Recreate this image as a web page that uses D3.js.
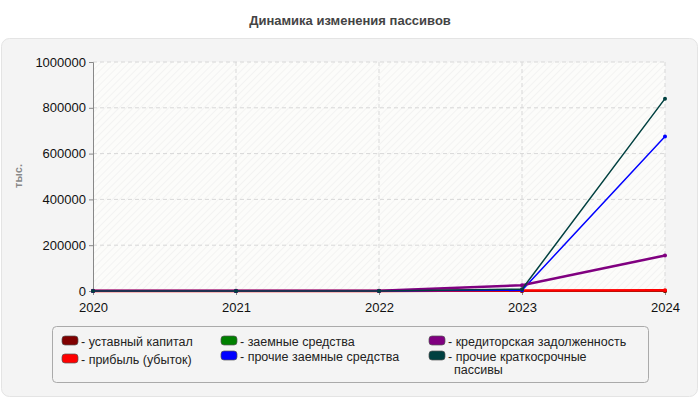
<!DOCTYPE html>
<html><head><meta charset="utf-8">
<script src="https://cdn.jsdelivr.net/npm/d3@7"></script>
<style>body{margin:0;background:#fff;font-family:"Liberation Sans",Arial,sans-serif}</style>
</head><body><svg id="c" width="700" height="400"></svg>
<script>
const years = [2020, 2021, 2022, 2023, 2024];
const yTicks = [0, 200000, 400000, 600000, 800000, 1000000];
const seriesNames = ["уставный капитал","прибыль (убыток)","заемные средства","прочие заемные средства","кредиторская задолженность","прочие краткосрочные пассивы"];
const seriesColors = ["#800000","#ff0000","#008000","#0000ff","#800080","#004040"];
const ustavny = [10, 10, 10, 10, 10];
const pribyl = [0, 0, 0, 2000, 3000];
const zaemnye = [0, 0, 0, 0, 0];
const prochieZaemnye = [0, 0, 0, 3000, 675000];
const kreditor = [1000, 1000, 1500, 25000, 155000];
const prochieKratko = [0, 0, 0, 8000, 840000];
const seriesValues = [ustavny, pribyl, zaemnye, prochieZaemnye, kreditor, prochieKratko];

const svg = d3.select("#c");
svg.append("text").attr("x",350).attr("y",25).attr("text-anchor","middle")
  .attr("font-size",13).attr("font-weight","bold").attr("fill","#444").text("Динамика изменения пассивов");
svg.append("rect").attr("x",1.5).attr("y",38.5).attr("width",696).attr("height",358).attr("rx",8)
  .attr("fill","#f4f4f4").attr("stroke","#e4e4e4");
const defs = svg.append("defs");
const p = defs.append("pattern").attr("id","h").attr("width",5).attr("height",5)
  .attr("patternUnits","userSpaceOnUse").attr("patternTransform","rotate(45)");
p.append("rect").attr("width",5).attr("height",5).attr("fill","#fcfcfa");
p.append("line").attr("x1",0).attr("y1",0).attr("x2",0).attr("y2",5).attr("stroke","#f0f0f0").attr("stroke-width",1.5);

const x = d3.scalePoint().domain(years).range([93, 665]);
const y = d3.scaleLinear().domain([0, 1000000]).range([291, 62]);
svg.append("rect").attr("x",93).attr("y",62).attr("width",572).attr("height",229).attr("fill","url(#h)");
const g = svg.append("g");
yTicks.slice(1).forEach(t=>g.append("line").attr("x1",93).attr("x2",665).attr("y1",y(t)).attr("y2",y(t))
  .attr("stroke","#d8d8d8").attr("stroke-dasharray","4,3"));
years.slice(1).forEach(t=>g.append("line").attr("x1",x(t)).attr("x2",x(t)).attr("y1",62).attr("y2",291)
  .attr("stroke","#d8d8d8").attr("stroke-dasharray","4,3"));

const ya = svg.append("g").attr("transform","translate(93,0)").call(d3.axisLeft(y).tickValues(yTicks).tickFormat(d3.format("d")).tickSize(4));
const xa = svg.append("g").attr("transform","translate(0,291)").call(d3.axisBottom(x).tickSize(4).tickFormat(d3.format("d")));
[ya,xa].forEach(a=>{a.selectAll("text").attr("font-size",13).attr("fill","#111").attr("font-family","Liberation Sans, Arial");
  a.selectAll("path,line").attr("stroke","#888");});
xa.selectAll("text").attr("dy","1.1em");
svg.append("text").attr("transform","translate(22,176) rotate(-90)").attr("text-anchor","middle")
  .attr("font-size",11).attr("font-weight","bold").attr("fill","#888").text("тыс.");

const line = d3.line().x((d,i)=>x(years[i])).y(d=>y(d));
const order = [2,0,1,3,4,5];
order.forEach(k=>{
  const w = (k===4||k===1)?2.5:1.5;
  svg.append("path").attr("d",line(seriesValues[k])).attr("fill","none").attr("stroke",seriesColors[k]).attr("stroke-width",w);
  svg.selectAll(null).data(seriesValues[k]).enter().append("circle")
    .attr("cx",(d,i)=>x(years[i])).attr("cy",d=>y(d)).attr("r",2).attr("fill",seriesColors[k]);
});

svg.append("rect").attr("x",52.5).attr("y",326.5).attr("width",596).attr("height",56).attr("rx",4)
  .attr("fill","#f4f4f4").attr("stroke","#aaa");
const leg = [[0,62,346],[1,62,364],[2,221,346],[3,221,361],[4,429,346],[5,429,361]];
leg.forEach(([k,lx,ly])=>{
  svg.append("rect").attr("x",lx).attr("y",ly-10).attr("width",16).attr("height",9).attr("rx",3)
    .attr("fill",seriesColors[k]).attr("stroke","#555").attr("stroke-width",0.7);
  const t = svg.append("text").attr("x",lx+19).attr("y",ly).attr("font-size",12.5).attr("fill","#222");
  if(k===5){t.append("tspan").text("- прочие краткосрочные");
    t.append("tspan").attr("x",lx+25).attr("dy",13).text("пассивы");}
  else t.text("- "+seriesNames[k]);
});
</script></body></html>
